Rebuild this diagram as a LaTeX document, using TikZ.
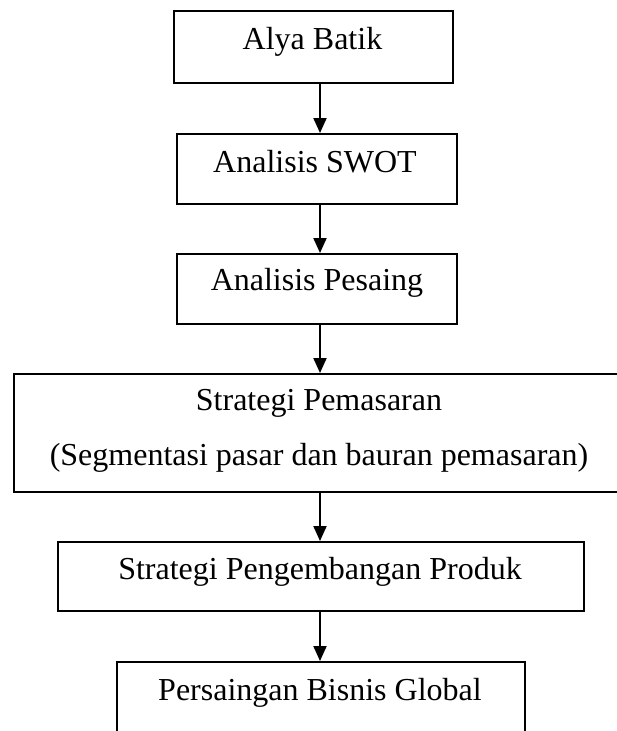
\documentclass[tikz,border=0pt]{standalone}
\usepackage{fontspec}
\setmainfont{Liberation Serif}
\usetikzlibrary{arrows.meta}
\begin{document}
\begin{tikzpicture}[x=1pt,y=-1pt,
  box/.style={draw=black,line width=2pt,rectangle,inner sep=0pt},
  lbl/.style={anchor=base,inner sep=0pt,font=\fontsize{32}{40}\selectfont},
  arr/.style={line width=2pt,-{Triangle[width=13pt,length=15pt]}}]
\useasboundingbox (0,0) rectangle (617,731);
\clip (0,0) rectangle (617,731);
\fill[white] (0,0) rectangle (617,731);
\coordinate (ax) at (320,0);
% boxes
\node[box,minimum width=279pt,minimum height=72pt,anchor=north west] (b1) at (173,10) {};
\node[box,minimum width=280pt,minimum height=70pt,anchor=north west] (b2) at (176,133) {};
\node[box,minimum width=280pt,minimum height=70pt,anchor=north west] (b3) at (176,253) {};
\node[box,minimum width=612pt,minimum height=118pt,anchor=north west] (b4) at (13,373) {};
\node[box,minimum width=526pt,minimum height=69pt,anchor=north west] (b5) at (57,541) {};
\node[box,minimum width=408pt,minimum height=110pt,anchor=north west] (b6) at (116,661) {};
% texts
\node[lbl] (t1) at (312.5,49) {Alya Batik};
\node[lbl] (t2) at (315,172) {Analisis SWOT};
\node[lbl] (t3) at (317,290) {Analisis Pesaing};
\node[lbl] (t4a) at (319,410) {Strategi Pemasaran};
\node[lbl] (t4b) at (319,465) {(Segmentasi pasar dan bauran pemasaran)};
\node[lbl] (t5) at (320,579) {Strategi Pengembangan Produk};
\node[lbl] (t6) at (320,700) {Persaingan Bisnis Global};
% arrows
\draw[arr] (b1.south -| ax) -- (b2.north -| ax);
\draw[arr] (b2.south -| ax) -- (b3.north -| ax);
\draw[arr] (b3.south -| ax) -- (b4.north -| ax);
\draw[arr] (b4.south -| ax) -- (b5.north -| ax);
\draw[arr] (b5.south -| ax) -- (b6.north -| ax);
\end{tikzpicture}
\end{document}
